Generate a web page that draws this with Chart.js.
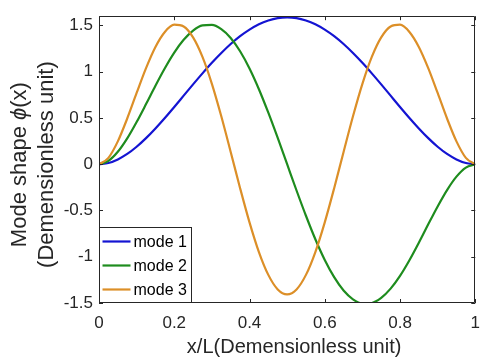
<!DOCTYPE html>
<html><head><meta charset="utf-8">
<script src="https://cdn.jsdelivr.net/npm/chart.js@4"></script>
<style>html,body{margin:0;padding:0;overflow:hidden;background:#fff}</style>
</head><body>
<canvas id="c" width="490" height="358" style="display:block"></canvas>
<script>
const xValues = [0,0.025,0.05,0.075,0.1,0.125,0.15,0.175,0.2,0.225,0.25,0.275,0.3,0.325,0.35,0.375,0.4,0.425,0.45,0.475,0.5,0.525,0.55,0.575,0.6,0.625,0.65,0.675,0.7,0.725,0.75,0.775,0.8,0.825,0.85,0.875,0.9,0.925,0.95,0.975,1];
const mode1 = [0,0.013,0.052,0.111,0.189,0.282,0.387,0.500,0.619,0.741,0.863,0.982,1.096,1.202,1.299,1.384,1.455,1.513,1.554,1.580,1.588,1.580,1.554,1.513,1.455,1.384,1.299,1.202,1.096,0.982,0.863,0.741,0.619,0.500,0.387,0.282,0.189,0.111,0.052,0.013,0];
const mode2 = [0,0.036,0.134,0.279,0.456,0.650,0.849,1.038,1.207,1.345,1.445,1.500,1.506,1.460,1.365,1.221,1.035,0.811,0.557,0.284,0,-0.284,-0.557,-0.811,-1.035,-1.221,-1.365,-1.460,-1.506,-1.500,-1.445,-1.345,-1.207,-1.038,-0.849,-0.650,-0.456,-0.279,-0.134,-0.036,0];
const mode3 = [0,0.069,0.247,0.494,0.770,1.039,1.268,1.430,1.508,1.489,1.371,1.160,0.869,0.518,0.133,-0.259,-0.628,-0.949,-1.196,-1.353,-1.406,-1.353,-1.196,-0.949,-0.628,-0.259,0.133,0.518,0.869,1.160,1.371,1.489,1.508,1.430,1.268,1.039,0.770,0.494,0.247,0.069,0];
const seriesLabels = ['mode 1','mode 2','mode 3'];
const seriesColors = ['#1414d2','#1e8c1e','#dc8f28'];
const xTickValues = [0,0.2,0.4,0.6,0.8,1];
const xTickLabels = ['0','0.2','0.4','0.6','0.8','1'];
const yTickValues = [-1.5,-1,-0.5,0,0.5,1,1.5];
const yTickLabels = ['-1.5','-1','-0.5','0','0.5','1','1.5'];
const xTitle = 'x/L(Demensionless unit)';
// y title: line 1 in segments (the symbol is italic), line 2 plain
const yTitleLine1 = [['Mode shape ', false], ['\u03D5', true], ['(x)', false]];
const yTitleLine2 = '(Demensionless unit)';

const FONT = 'Liberation Sans, Arial, Helvetica, sans-serif';
const AXC = '#262626';
Chart.defaults.font.family = FONT;

const series = [mode1, mode2, mode3];
const datasets = series.map((arr, i) => ({
  label: seriesLabels[i],
  data: xValues.map((x, j) => ({x: x, y: arr[j]})),
  borderColor: seriesColors[i],
  backgroundColor: seriesColors[i],
  borderWidth: 2.2,
  pointRadius: 0,
  fill: false,
  cubicInterpolationMode: 'monotone',
  order: 3 - i
}));

const framePlugin = {
  id: 'frame',
  afterDraw(chart) {
    const {ctx, chartArea: a, scales: {x, y}} = chart;
    ctx.save();
    ctx.strokeStyle = AXC;
    ctx.lineWidth = 1;
    ctx.beginPath();
    ctx.rect(Math.round(a.left) + 0.5, Math.round(a.top) + 0.5, Math.round(a.right - a.left) - 1, Math.round(a.bottom - a.top) - 1);
    const tl = 4;
    xTickValues.forEach(v => {
      const px = Math.round(x.getPixelForValue(v)) + 0.5;
      ctx.moveTo(px, a.bottom); ctx.lineTo(px, a.bottom - tl);
      ctx.moveTo(px, a.top); ctx.lineTo(px, a.top + tl);
    });
    yTickValues.forEach(v => {
      const py = Math.round(y.getPixelForValue(v)) + 0.5;
      ctx.moveTo(a.left, py); ctx.lineTo(a.left + tl, py);
      ctx.moveTo(a.right, py); ctx.lineTo(a.right - tl, py);
    });
    ctx.stroke();

    // legend box (bottom-left inside axes)
    const bw = 92, bh = 76;
    const bx = Math.round(a.left) + 0.5, by = Math.round(a.bottom) - bh + 0.5;
    ctx.fillStyle = '#fff';
    ctx.fillRect(bx, by, bw, bh - 1);
    ctx.strokeStyle = AXC;
    ctx.strokeRect(bx, by, bw, bh - 1);
    ctx.font = '16px ' + FONT;
    ctx.textBaseline = 'middle';
    ctx.textAlign = 'left';
    chart.data.datasets.forEach((ds, i) => {
      const ly = by + 14 + i * 24;
      ctx.strokeStyle = ds.borderColor;
      ctx.lineWidth = 2.2;
      ctx.beginPath();
      ctx.moveTo(bx + 3, ly); ctx.lineTo(bx + 31, ly);
      ctx.stroke();
      ctx.fillStyle = '#000';
      ctx.fillText(ds.label, bx + 34, ly + 1);
    });

    // axis titles
    ctx.fillStyle = AXC;
    ctx.textBaseline = 'middle';
    ctx.textAlign = 'center';
    ctx.font = '20px ' + FONT;
    ctx.fillText(xTitle, (a.left + a.right) / 2 + 7, 347);

    const cy = (a.top + a.bottom) / 2 + 5;
    const yf = '22px ' + FONT, yfi = 'italic 22px ' + FONT;
    // line 1
    ctx.save();
    ctx.translate(20, cy);
    ctx.rotate(-Math.PI / 2);
    ctx.textAlign = 'left';
    let w = 0;
    yTitleLine1.forEach(([t, it]) => { ctx.font = it ? yfi : yf; w += ctx.measureText(t).width; });
    let px = -w / 2;
    yTitleLine1.forEach(([t, it]) => { ctx.font = it ? yfi : yf; ctx.fillText(t, px, 0); px += ctx.measureText(t).width; });
    ctx.restore();
    // line 2
    ctx.save();
    ctx.translate(47, cy);
    ctx.rotate(-Math.PI / 2);
    ctx.textAlign = 'center';
    ctx.font = yf;
    ctx.fillText(yTitleLine2, 0, 0);
    ctx.restore();
    ctx.restore();
  }
};

new Chart(document.getElementById('c'), {
  type: 'line',
  data: {datasets: datasets},
  plugins: [framePlugin],
  options: {
    responsive: false,
    animation: false,
    devicePixelRatio: 1,
    layout: {padding: {top: 16, left: 0, right: 2, bottom: 0}},
    plugins: {legend: {display: false}, tooltip: {enabled: false}},
    scales: {
      x: {
        type: 'linear', min: 0, max: 1,
        afterBuildTicks: s => { s.ticks = xTickValues.map(v => ({value: v})); },
        afterFit: s => { s.height = 55; },
        ticks: {callback: (v, i) => xTickLabels[i], font: {size: 17}, color: AXC, padding: 10, maxRotation: 0, autoSkip: false},
        grid: {display: true, drawOnChartArea: false, drawTicks: false},
        border: {display: false},
        title: {display: false}
      },
      y: {
        type: 'linear', min: -1.5, max: 1.6,
        afterBuildTicks: s => { s.ticks = yTickValues.map(v => ({value: v})); },
        afterFit: s => { s.width = 99; },
        ticks: {callback: (v, i) => yTickLabels[i], font: {size: 17}, color: AXC, padding: 6, autoSkip: false},
        grid: {display: true, drawOnChartArea: false, drawTicks: false},
        border: {display: false},
        title: {display: false}
      }
    }
  }
});
</script>
</body></html>
